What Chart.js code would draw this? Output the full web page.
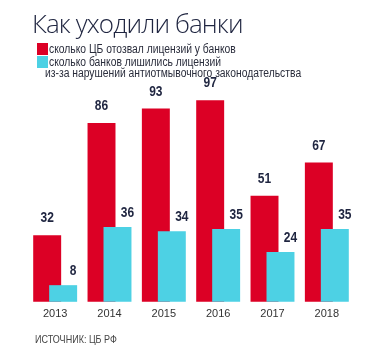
<!DOCTYPE html>
<html>
<head>
<meta charset="utf-8">
<script src="https://cdn.jsdelivr.net/npm/chart.js@4"></script>
<style>
  body{margin:0;background:#fff;width:380px;height:350px;overflow:hidden;position:relative;}
  #wrap{position:absolute;left:0;top:0;width:380px;height:350px;}
  .t{position:absolute;white-space:nowrap;color:#1f2540;transform-origin:0 0;}
  #title{left:32px;top:5px;font:300 26px "Open Sans",sans-serif;letter-spacing:-0.9px;}
  .lg{font:12px "Liberation Sans",sans-serif;color:#2a2d3c;transform:scaleX(0.86);}
  .sq{position:absolute;width:11px;height:12px;}
  #src{left:35px;top:333px;font:11px "Liberation Sans",sans-serif;color:#444;transform:scaleX(0.82);}
</style>
</head>
<body>
<div id="wrap"><canvas id="myChart" width="380" height="350"></canvas></div>
<div class="t" id="title">Как уходили банки</div>
<div class="sq" style="left:37px;top:43px;background:#dc0025"></div>
<div class="t lg" style="left:49px;top:42px">сколько ЦБ отозвал лицензий у банков</div>
<div class="sq" style="left:37px;top:56px;background:#4dd1e4"></div>
<div class="t lg" style="left:49px;top:55px">сколько банков лишились лицензий</div>
<div class="t lg" style="left:45px;top:66px">из-за нарушений антиотмывочного законодательства</div>
<div class="t" id="src">ИСТОЧНИК: ЦБ РФ</div>
<script>
const years = ['2013', '2014', '2015', '2016', '2017', '2018'];
const revoked = [32, 86, 93, 97, 51, 67];
const moneyLaundering = [8, 36, 34, 35, 24, 35];

const red = '#dc0025';
const cyan = '#4dd1e4';

// draw datasets in index order so the cyan bar lies over the red one
const drawOrder = {
    id: 'drawOrder',
    beforeDatasetsDraw(chart) {
        chart.getSortedVisibleDatasetMetas().forEach(m => m.controller.draw());
        return false;
    }
};

// numbers above the bars (narrowed like the original condensed face)
const valueLabels = {
    id: 'valueLabels',
    afterDraw(chart) {
        const ctx = chart.ctx;
        ctx.save();
        ctx.font = 'bold 15px "Liberation Sans", sans-serif';
        ctx.fillStyle = '#1f2540';
        ctx.textAlign = 'center';
        ctx.textBaseline = 'middle';
        chart.data.datasets.forEach((ds, di) => {
            chart.getDatasetMeta(di).data.forEach((bar, i) => {
                const dx = di === 1 ? 10 : 0;
                const dy = di === 1 ? 14 : 17;
                ctx.save();
                ctx.translate(bar.x + dx, bar.y - dy);
                ctx.scale(0.8, 1);
                ctx.fillText(ds.data[i], 0, 0);
                ctx.restore();
            });
        });
        ctx.restore();
    }
};

const ctx = document.getElementById('myChart').getContext('2d');
const myChart = new Chart(ctx, {
    type: 'bar',
    data: {
        labels: years,
        datasets: [{
            label: 'сколько ЦБ отозвал лицензий у банков',
            data: revoked,
            backgroundColor: red
        }, {
            label: 'сколько банков лишились лицензий из-за нарушений антиотмывочного законодательства',
            data: moneyLaundering,
            backgroundColor: cyan
        }]
    },
    options: {
        responsive: false,
        animation: false,
        layout: {padding: {left: 28, right: 26, top: 94, bottom: 23}},
        datasets: {bar: {categoryPercentage: 0.588, barPercentage: 1.75}},
        plugins: {legend: {display: false}, tooltip: {enabled: false}},
        scales: {
            x: {
                grid: {display: false, drawTicks: false},
                border: {display: false},
                ticks: {
                    color: '#333',
                    padding: 6,
                    font: {family: '"Liberation Sans", sans-serif', size: 11}
                }
            },
            y: {display: false, min: 0, max: 100}
        }
    },
    plugins: [drawOrder, valueLabels]
});
</script>
</body>
</html>
